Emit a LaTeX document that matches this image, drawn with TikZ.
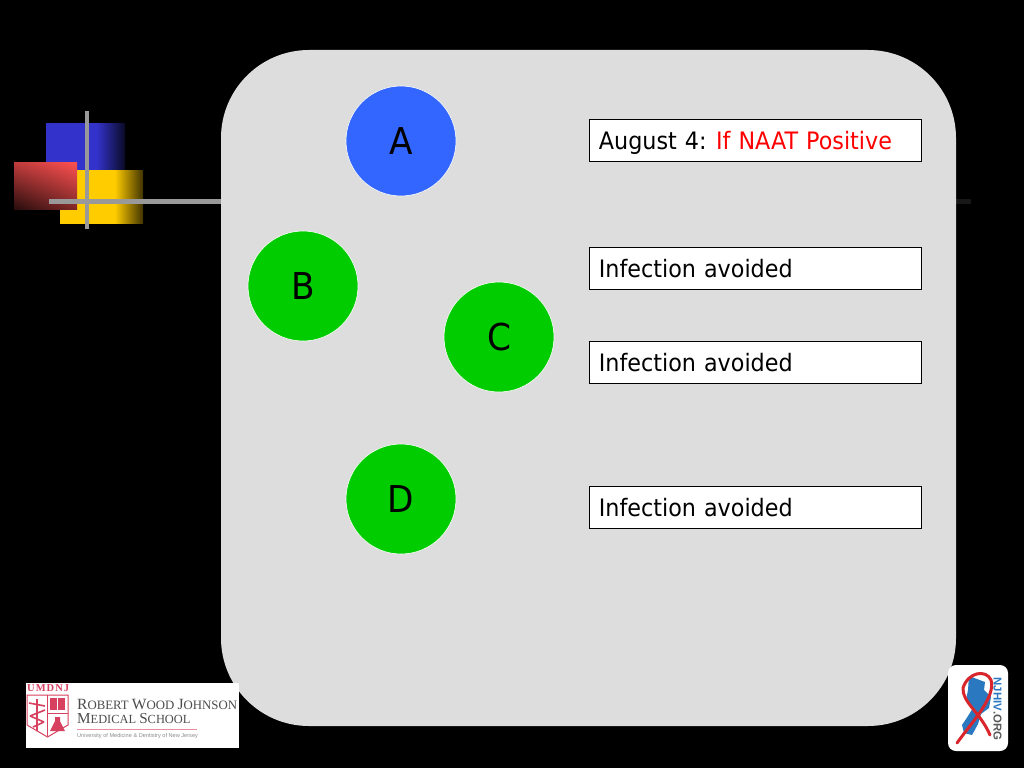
\documentclass[tikz,border=0pt]{standalone}
\usepackage{fontspec}
\setmainfont[FakeStretch=0.928]{DejaVu Sans}
\newfontfamily\logoserif{Liberation Serif}
\newfontfamily\logosans{Liberation Sans}
\usetikzlibrary{calc,shadings}
\definecolor{panel}{HTML}{DDDDDD}
\definecolor{gbar}{HTML}{999999}
\definecolor{bluec}{HTML}{3366FF}
\definecolor{greenc}{HTML}{00CC00}
\definecolor{sqblue}{HTML}{3333CC}
\definecolor{sqbluedark}{HTML}{0A0A26}
\definecolor{sqyellow}{HTML}{FFCC00}
\definecolor{sqyellowdark}{HTML}{403300}
\definecolor{sqred}{HTML}{FF5050}
\definecolor{umd}{HTML}{D8405F}
\definecolor{njblue}{HTML}{2A78C0}
\definecolor{njred}{HTML}{D8262C}
\pgfdeclarehorizontalshading{bluefade}{100bp}{color(0bp)=(sqblue);color(57bp)=(sqblue);color(75bp)=(sqbluedark);color(100bp)=(sqbluedark)}
\pgfdeclarehorizontalshading{yellowfade}{100bp}{color(0bp)=(sqyellow);color(58bp)=(sqyellow);color(75bp)=(sqyellowdark);color(100bp)=(sqyellowdark)}
\tikzset{
  x=1pt,y=-1pt,
  circ/.style={circle,draw=white,line width=0.6pt,minimum size=110pt,inner sep=0pt,font=\fontsize{37}{37}\selectfont,text=black},
  lab/.style={draw=black,line width=0.8pt,fill=white,minimum width=332.5pt,minimum height=42pt,inner sep=0pt,text width=312.5pt,text height=24.5pt,text depth=5.5pt,align=left,font=\fontsize{24}{26}\selectfont,text=black,anchor=north west},
}
\begin{document}
\begin{tikzpicture}
\useasboundingbox (0,0) rectangle (1024,768);
\fill[black] (0,0) rectangle (1024,768);
% decorative squares
\shade[shading=bluefade] (46,123) rectangle (125,170);
\shade[shading=yellowfade] (60,170) rectangle (143,223.5);
\shade[upper right=sqred,upper left=sqred!75!black,lower right=sqred!50!black,lower left=black!85!sqred] (14,162) rectangle (77,209.5);
\draw[gbar!15!black,line width=5pt] (222,201.5) -- (971,201.5);
\draw[gbar,line width=5pt] (49,201.5) -- (222,201.5);
\draw[gbar,line width=4pt] (87,111) -- (87,229);
% panel
\fill[panel,rounded corners=88pt] (221,50) rectangle (956,726);
% circles
\node[circ,fill=bluec] (a) at (401,141) {\raisebox{-3.5pt}{A}};
\node[circ,fill=greenc] (b) at (303,286) {\raisebox{-3.5pt}{B}};
\node[circ,fill=greenc] (c) at (499,337) {\raisebox{-3.5pt}{C}};
\node[circ,fill=greenc] (d) at (401,499) {\raisebox{-3.5pt}{D}};
% labels
\node[lab] (l1) at (588.5,119) {August 4:\hspace{0.4em}\textcolor{red}{If NAAT Positive}};
\node[lab] (l2) at (588.5,247) {Infection avoided};
\node[lab] (l3) at (588.5,341) {Infection avoided};
\node[lab] (l4) at (588.5,486) {Infection avoided};
% RWJ logo
\fill[white] (26,683) rectangle (239,748);
\node[anchor=west,inner sep=0pt,text=umd,font=\logoserif\bfseries\fontsize{10.5}{11}\selectfont] (u) at (27,688.5) {U\hspace{1pt}M\hspace{1pt}D\hspace{1pt}N\hspace{1pt}J};
\draw[umd,line width=1pt,fill=white] (27,695) -- (68,695) -- (68,725) -- (47.5,737) -- (27,725) -- cycle;
\draw[umd,line width=0.8pt] (47.5,695) -- (47.5,736) (47.5,713) -- (68,713);
\fill[umd] (50,698) rectangle (65,710);
\draw[white,line width=0.6pt] (57.5,698) -- (57.5,710);
\fill[umd] (55,717) -- (60,717) -- (60,721) -- (65,731) -- (50,731) -- (55,721) -- cycle;
\draw[umd,line width=1.6pt] (37,699) -- (37,731) (29,703) -- (45,706) (45,710) -- (30,716) (30,716) -- (44,722) (44,722) -- (33,727);
\node[anchor=west,inner sep=0pt,text=black!70,font=\logoserif\fontsize{15.6}{15}\selectfont] (r1) at (77,704.5) {R\fontsize{12.8}{15}\selectfont OBERT \fontsize{15.6}{15}\selectfont W\fontsize{12.8}{15}\selectfont OOD \fontsize{15.6}{15}\selectfont J\fontsize{12.8}{15}\selectfont OHNSON};
\node[anchor=west,inner sep=0pt,text=black!70,font=\logoserif\fontsize{15.2}{15}\selectfont] (r2) at (77,719) {M\fontsize{12.4}{15}\selectfont EDICAL \fontsize{15.2}{15}\selectfont S\fontsize{12.4}{15}\selectfont CHOOL};
\draw[umd!60,line width=0.7pt] (77,729) -- (197,729);
\node[anchor=west,inner sep=0pt,text=black!45,font=\logosans\fontsize{5.6}{6}\selectfont] (r3) at (77,736) {University of Medicine \& Dentistry of New Jersey};
% NJHIV logo
\fill[white,rounded corners=8pt] (948,665) rectangle (1008,751);
\fill[njblue] (969,676) -- (985,682) -- (984,690) -- (991,697) -- (989,708) -- (981,714) -- (978,724) -- (972,735) -- (964,733) -- (962,725) -- (968,716) -- (973,708) -- (966,700) -- (968,690) -- cycle;
\draw[njred,line width=3pt,line cap=round] (957,743) .. controls (972,722) and (996,697) .. (991,680) .. controls (986,669) and (968,672) .. (963,688) .. controls (962,702) and (980,712) .. (990,735);
\node[rotate=-90,inner sep=0pt,font=\logosans\bfseries\fontsize{11.4}{12}\selectfont,text=black!65] (o) at (997.5,709) {\textcolor{njblue}{NJHIV}.ORG};
\end{tikzpicture}
\end{document}
